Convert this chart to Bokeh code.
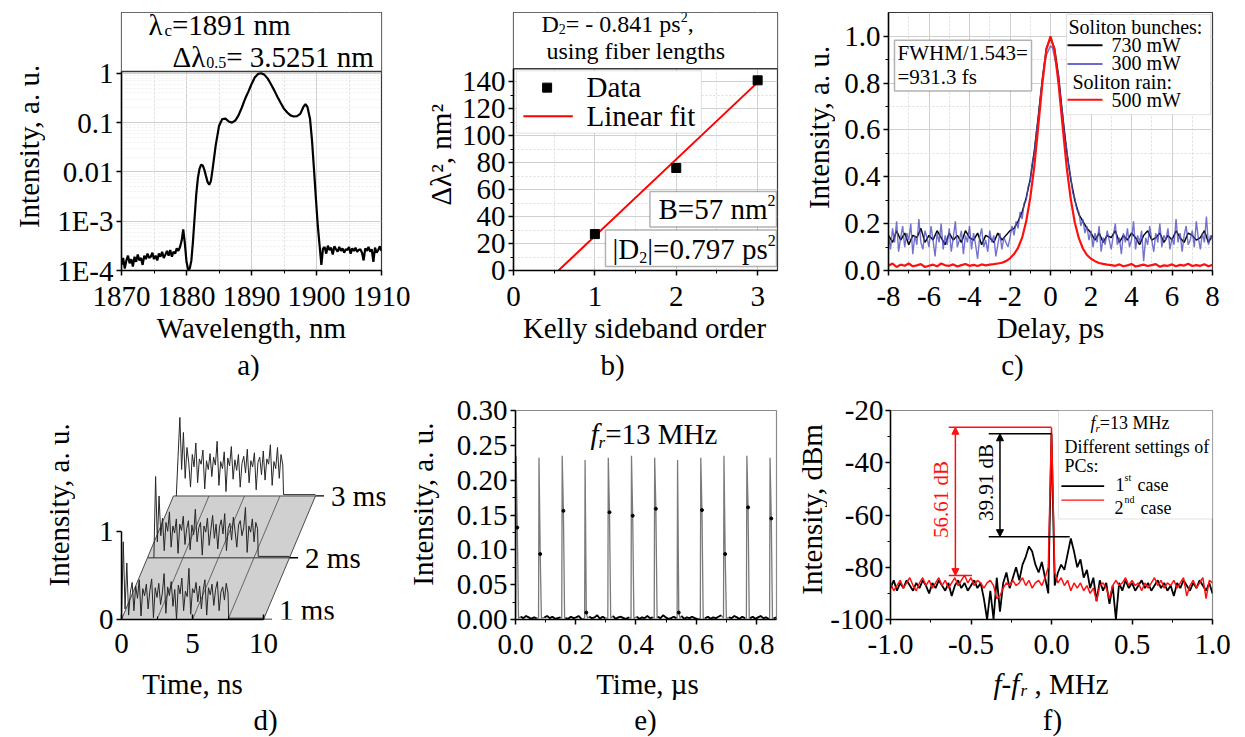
import numpy as np
from bokeh.plotting import figure
from bokeh.models import (Range1d, FixedTicker, Label, BoxAnnotation, Arrow, NormalHead,
                          NumeralTickFormatter, Span)
from bokeh.layouts import row, column
from bokeh.embed import file_html
from bokeh.resources import INLINE
from bokeh.core.properties import value

SERIF = "Liberation Serif"
AXIS_FONT = "'Liberation Serif'"

# ====================== DATA ======================
# (a) optical spectrum, log intensity
a_left_floor = [1.3, 1.8, 1.1, 1.6, 2.0, 1.4, 1.7, 1.2, 1.9, 1.5,
                2.1, 1.6, 1.8, 1.3, 2.0, 1.7, 2.2, 1.8, 1.9, 2.3,
                1.7, 2.0, 1.6, 2.2, 1.9, 2.4, 1.8, 2.1, 2.5, 2.0,
                2.6, 1.9, 2.4, 2.2, 2.8, 2.5, 3.0]          # x1e-4, 1870..1879 nm
a_mid_wl = [1879.25, 1879.5, 1879.75, 1880.0, 1880.25, 1880.5, 1880.75, 1881.0, 1881.25, 1881.5,
            1881.75, 1882.0, 1882.25, 1882.5, 1882.75, 1883.0, 1883.25, 1883.5, 1883.75, 1884.0,
            1884.5, 1885.0, 1885.5, 1886.0, 1886.5, 1887.0, 1887.5, 1888.0, 1888.5, 1889.0,
            1889.5, 1890.0, 1890.5, 1891.0, 1891.5, 1892.0, 1892.5, 1893.0, 1893.5, 1894.0,
            1894.5, 1895.0, 1895.5, 1896.0, 1896.5, 1897.0, 1897.5, 1898.0, 1898.3, 1898.6,
            1899.0, 1899.3, 1899.6, 1899.9, 1900.2, 1900.5, 1900.75, 1901.0]
a_mid_int = [4.0e-4, 6.8e-4, 3.5e-4, 1.5e-4, 1.05e-4, 1.1e-4, 1.6e-4, 4e-4, 1.2e-3, 3.5e-3,
             7.5e-3, 0.0115, 0.014, 0.0135, 0.011, 0.0082, 0.0062, 0.0055, 0.0065, 0.011,
             0.035, 0.085, 0.118, 0.12, 0.105, 0.1, 0.11, 0.14, 0.2, 0.3,
             0.42, 0.6, 0.82, 0.97, 1.0, 0.93, 0.78, 0.6, 0.45, 0.33,
             0.25, 0.19, 0.16, 0.14, 0.133, 0.135, 0.15, 0.21, 0.235, 0.21,
             0.12, 0.045, 0.012, 3e-3, 8e-4, 3e-4, 1.3e-4, 2.8e-4]
a_right_floor = [3.0, 2.2, 3.2, 2.6, 2.9, 2.1, 3.1, 2.7, 2.4, 3.0,
                 2.5, 2.8, 2.3, 2.7, 2.6, 3.0, 2.2, 2.8, 2.5, 2.9,
                 2.4, 2.6, 2.7, 2.3, 1.6, 2.8, 2.5, 3.0, 2.4, 2.7,
                 1.5, 2.9, 2.3, 2.6, 3.1, 2.5]               # x1e-4, 1901.25..1910 nm

# (b) Kelly sidebands
b_order = [1, 2, 3]
b_dl2 = [27, 76, 141]
b_fit_slope = 57.0
b_fit_intercept = -31.5

# (c) autocorrelation traces, delay -8..8 ps
c_black = [0.15, 0.12, 0.17, 0.13, 0.16, 0.11, 0.15, 0.14, 0.18, 0.12,
           0.15, 0.13, 0.17, 0.14, 0.11, 0.16, 0.13, 0.15, 0.12, 0.17,
           0.14, 0.13, 0.16, 0.11, 0.15, 0.14, 0.12, 0.16, 0.13, 0.15,
           0.17, 0.18, 0.21, 0.25, 0.31, 0.39, 0.51, 0.66, 0.82, 0.95, 0.99,
           0.95, 0.83, 0.66, 0.51, 0.39, 0.30, 0.24, 0.21, 0.18, 0.16,
           0.13, 0.16, 0.12, 0.15, 0.14, 0.17, 0.12, 0.15, 0.13, 0.16,
           0.14, 0.11, 0.15, 0.17, 0.13, 0.14, 0.16, 0.12, 0.15, 0.13,
           0.17, 0.14, 0.12, 0.16, 0.15, 0.13, 0.14, 0.17, 0.12, 0.15]
c_blue = [0.15, 0.09, 0.18, 0.12, 0.21, 0.08, 0.14, 0.19, 0.10, 0.16,
          0.13, 0.20, 0.07, 0.15, 0.11, 0.22, 0.12, 0.09, 0.17, 0.14,
          0.10, 0.19, 0.13, 0.06, 0.16, 0.12, 0.20, 0.09, 0.15, 0.11,
          0.18, 0.08, 0.14, 0.21, 0.10, 0.13, 0.17, 0.07, 0.15, 0.12,
          0.19, 0.09, 0.16, 0.11, 0.05, 0.14, 0.18, 0.10, 0.13, 0.08,
          0.17, 0.12, 0.15, 0.06, 0.11, 0.16, 0.09, 0.14, 0.12, 0.10,
          0.14, 0.19, 0.15, 0.21, 0.18, 0.25, 0.22, 0.29, 0.30, 0.36,
          0.38, 0.46, 0.50, 0.59, 0.65, 0.74, 0.81, 0.88, 0.92, 0.94,
          0.96,
          0.95, 0.91, 0.87, 0.83, 0.73, 0.67, 0.57, 0.52, 0.44, 0.40,
          0.33, 0.31, 0.26, 0.25, 0.19, 0.22, 0.16, 0.19, 0.13, 0.17,
          0.10, 0.16, 0.12, 0.19, 0.08, 0.14, 0.11, 0.17, 0.13, 0.09,
          0.15, 0.20, 0.11, 0.14, 0.07, 0.16, 0.12, 0.18, 0.10, 0.13,
          0.21, 0.09, 0.15, 0.12, 0.17, 0.04, 0.14, 0.11, 0.19, 0.13,
          0.08, 0.16, 0.12, 0.20, 0.10, 0.15, 0.13, 0.18, 0.09, 0.14,
          0.11, 0.22, 0.12, 0.16, 0.08, 0.15, 0.19, 0.11, 0.13, 0.17,
          0.10, 0.21, 0.14, 0.09, 0.16, 0.12, 0.23, 0.11, 0.15, 0.13]
c_red = [0.02, 0.03, 0.015, 0.025, 0.02, 0.03, 0.018, 0.022, 0.027, 0.015,
         0.02, 0.025, 0.018, 0.03, 0.022, 0.02, 0.026, 0.017, 0.023, 0.028,
         0.02, 0.024, 0.019, 0.026, 0.022,
         0.025, 0.027, 0.03, 0.033, 0.04, 0.052, 0.07, 0.097, 0.14, 0.21,
         0.31, 0.445, 0.62, 0.80, 0.945, 1.0, 0.94, 0.795, 0.615, 0.44,
         0.305, 0.205, 0.138, 0.094, 0.066, 0.05, 0.04, 0.032, 0.028, 0.025, 0.023,
         0.02, 0.026, 0.018, 0.022, 0.028, 0.017, 0.021, 0.025, 0.019, 0.023,
         0.027, 0.016, 0.022, 0.02, 0.026, 0.018, 0.024, 0.021, 0.029, 0.019,
         0.023, 0.02, 0.027, 0.018, 0.024]

# (d) oscilloscope traces at 1, 2, 3 ms (intensity, a.u.)
d_t1 = [0.0, 0.88, 0.12, 0.64, 0.05, 0.31, 0.42, 0.10, 0.38, 0.24,
        0.45, 0.04, 0.35, 0.27, 0.40, 0.12, 0.33, 0.46, 0.02, 0.36,
        0.25, 0.41, 0.17, 0.30, 0.52, 0.07, 0.37, 0.27, 0.43, 0.15,
        0.34, 0.00, 0.39, 0.29, 0.47, 0.10, 0.32, 0.26, 0.58, 0.06,
        0.35, 0.30, 0.42, 0.20, 0.38, 0.12, 0.33, 0.45, 0.05, 0.36,
        0.28, 0.40, 0.16, 0.34, 0.43, 0.10, 0.31, 0.37, 0.22, 0.41, 0.30]
d_t2 = [0.0, 0.92, 0.18, 0.70, 0.25, 0.45, 0.08, 0.40, 0.30, 0.52,
        0.12, 0.36, 0.28, 0.44, 0.05, 0.38, 0.31, 0.47, 0.15, 0.33,
        0.42, 0.09, 0.37, 0.26, 0.55, 0.18, 0.34, 0.40, 0.03, 0.36,
        0.29, 0.45, 0.14, 0.32, 0.48, 0.22, 0.38, 0.10, 0.35, 0.43,
        0.27, 0.50, 0.08, 0.33, 0.39, 0.20, 0.46, 0.30, 0.12, 0.37,
        0.42, 0.25, 0.34, 0.57, 0.06, 0.36, 0.29, 0.44, 0.18, 0.40, 0.33]
d_t3 = [0.0, 0.45, 0.89, 0.30, 0.72, 0.20, 0.55, 0.38, 0.10, 0.47,
        0.33, 0.60, 0.15, 0.42, 0.36, 0.52, 0.08, 0.40, 0.30, 0.48,
        0.22, 0.44, 0.35, 0.62, 0.12, 0.39, 0.31, 0.50, 0.05, 0.43,
        0.34, 0.56, 0.19, 0.41, 0.29, 0.47, 0.10, 0.37, 0.45, 0.26,
        0.53, 0.15, 0.40, 0.33, 0.49, 0.07, 0.38, 0.44, 0.24, 0.51,
        0.18, 0.42, 0.36, 0.58, 0.12, 0.39, 0.31, 0.55, 0.20, 0.47, 0.35]
d_spans = [(0.0, 7.5), (0.45, 7.75), (0.2, 7.7)]      # ns, start/end of each record
d_names = ["1 ms", "2 ms", "3 ms"]

# (e) pulse train
e_pulse_t = [0.002, 0.078, 0.155, 0.231, 0.308, 0.385, 0.462, 0.538, 0.615, 0.692, 0.768, 0.845]
e_pulse_peak = [0.235, 0.232, 0.235, 0.229, 0.232, 0.235, 0.232, 0.229, 0.232, 0.235, 0.235, 0.232]
e_pulse_mid = [0.132, 0.094, 0.156, 0.010, 0.154, 0.149, 0.159, 0.010, 0.157, 0.094, 0.161, 0.145]
e_floor = [0.002, 0.001, 0.004, 0.002, 0.005, 0.003, 0.001, 0.003, 0.002, 0.004,
           0.001, 0.003, 0.005, 0.002, 0.004, 0.001, 0.002, 0.003, 0.006, 0.002,
           0.001, 0.004, 0.002, 0.003, 0.005, 0.001, 0.003, 0.002, 0.004, 0.002,
           0.003, 0.006, 0.001, 0.004, 0.002, 0.003, 0.002, 0.005, 0.001, 0.003,
           0.004, 0.002, 0.001, 0.003, 0.005, 0.002, 0.004, 0.001, 0.003, 0.002,
           0.005, 0.002, 0.003, 0.001, 0.004, 0.002, 0.006, 0.003, 0.001, 0.002,
           0.004, 0.002, 0.003, 0.005, 0.001, 0.003, 0.002, 0.004, 0.002, 0.001,
           0.003, 0.005, 0.002, 0.004, 0.001, 0.003, 0.002, 0.004, 0.006, 0.002,
           0.001, 0.003, 0.002, 0.005, 0.003, 0.001, 0.004, 0.002, 0.003, 0.002,
           0.004, 0.001, 0.003, 0.005, 0.002, 0.003, 0.001, 0.004, 0.002, 0.003]

# (f) RF spectra, f - fr from -1 to 1 MHz (dBm)
f_case1 = [-88, -85, -89, -86, -88, -85, -87, -89, -86, -88,
           -85, -87, -90, -86, -88, -85, -87, -89, -86, -91,
           -87, -85, -88, -86, -89, -87, -85, -88, -86, -92,
           -100, -89, -100, -84, -97, -86, -82, -88, -84, -80,
           -85, -79, -76, -72, -74, -79, -82, -78, -84, -90,
           -29,
           -87, -82, -79, -81, -75, -69, -74, -80, -77, -84,
           -81, -88, -84, -93, -85, -89, -86, -94, -87, -100,
           -86, -89, -85, -88, -86, -89, -87, -85, -88, -86,
           -89, -87, -85, -88, -86, -89, -87, -91, -86, -88,
           -85, -87, -89, -86, -88, -85, -87, -89, -86, -90]
f_case2 = [-86, -89, -87, -85, -88, -86, -84, -87, -89, -86,
           -84, -87, -85, -88, -86, -84, -87, -85, -88, -86,
           -84, -87, -85, -83, -86, -84, -87, -85, -86, -88,
           -86, -85, -87, -92, -91, -88, -86, -87, -85, -87,
           -86, -84, -87, -85, -88, -86, -85, -87, -84, -80,
           -26.5,
           -82, -86, -84, -87, -85, -89, -86, -88, -86, -89,
           -87, -90, -88, -93, -87, -86, -88, -92, -87, -85,
           -87, -86, -84, -87, -85, -87, -86, -89, -86, -88,
           -86, -84, -87, -85, -88, -86, -87, -85, -88, -86,
           -84, -91, -87, -85, -88, -86, -84, -92, -85, -86]
f_red_top, f_red_bot = -26.4, -83.2
f_blk_top, f_blk_bot = -28.9, -68.3

# ====================== HELPERS ======================
TW = {' ': 250, ',': 250, '-': 333, '.': 250, '/': 278, ':': 278, '=': 564, '|': 200,
      'B': 667, 'D': 722, 'F': 556, 'H': 722, 'M': 889, 'W': 944, 'z': 444,
      'a': 444, 'b': 500, 'c': 444, 'd': 500, 'e': 444, 'f': 333, 'g': 500, 'h': 500,
      'i': 278, 'l': 278, 'm': 778, 'n': 500, 'o': 500, 'p': 500, 'r': 333, 's': 389,
      't': 278, 'u': 500, 'y': 500, 'Δ': 612, 'λ': 549}
TWI = {'f': 278, 'r': 389, '-': 333}
HALF_PI = np.pi / 2


def tw(s, size, italic=False):
    tot = 0
    for ch in s:
        tot += TWI[ch] if (italic and ch in TWI) else TW.get(ch, 500)
    return tot / 1000.0 * size


def bare(p):
    p.outline_line_color = None
    p.background_fill_color = "white"
    p.border_fill_color = "white"
    p.grid.visible = False


class Strip:
    """A text-only band of the page; coordinates are page pixels."""
    def __init__(self, x0, y0, x1, y1):
        self.y1 = y1
        self.p = figure(width=x1 - x0, height=y1 - y0, x_range=Range1d(x0, x1),
                        y_range=Range1d(0, y1 - y0), min_border=0,
                        x_axis_location=None, y_axis_location=None,
                        output_backend="svg", toolbar_location=None)
        bare(self.p)

    def put(self, ax, ay, text, size=29, align="center", angle=0.0, italic=False, color="black"):
        self.p.text(x=[ax], y=[self.y1 - ay], text=[text], angle=angle,
                    text_font=value(SERIF), text_font_size=f"{size}px",
                    text_align=align, text_baseline="middle", text_color=color,
                    text_font_style="italic" if italic else "normal")


class Panel:
    def __init__(self, canvas, frame, xr, yr, y_log=False):
        cx0, cy0, cx1, cy1 = canvas
        fx0, fy0, fx1, fy1 = frame
        self.fx0, self.fy0, self.fx1, self.fy1 = frame
        self.xr, self.yr, self.y_log = xr, yr, y_log
        self.p = figure(width=cx1 - cx0, height=cy1 - cy0,
                        x_range=Range1d(*xr), y_range=Range1d(*yr),
                        y_axis_type="log" if y_log else "linear",
                        min_border_left=fx0 - cx0, min_border_right=cx1 - fx1,
                        min_border_top=fy0 - cy0, min_border_bottom=cy1 - fy1,
                        output_backend="svg", toolbar_location=None)
        self.p.background_fill_color = "white"
        self.p.border_fill_color = "white"
        self.p.outline_line_color = "#3a3a3a"
        self.p.outline_line_width = 1.2

    def dx(self, ax):
        return self.xr[0] + (ax - self.fx0) / (self.fx1 - self.fx0) * (self.xr[1] - self.xr[0])

    def dy(self, ay):
        t = (self.fy1 - ay) / (self.fy1 - self.fy0)
        if self.y_log:
            l0, l1 = np.log10(self.yr[0]), np.log10(self.yr[1])
            return 10 ** (l0 + t * (l1 - l0))
        return self.yr[0] + t * (self.yr[1] - self.yr[0])

    def label(self, ax, ay, text, size=29, align="left", angle=0.0, color="black", italic=False):
        self.p.add_layout(Label(x=ax - self.fx0, y=self.fy1 - ay, x_units="screen", y_units="screen",
                                text=text, text_font=SERIF, text_font_size=f"{size}px",
                                text_align=align, text_baseline="middle", angle=angle,
                                text_color=color,
                                text_font_style="italic" if italic else "normal"))

    def seq(self, ax, parts, color="black"):
        x = ax
        for part in parts:
            text, size, ay = part[0], part[1], part[2]
            italic = len(part) > 3 and part[3]
            self.label(x, ay, text, size=size, italic=italic, color=color)
            x += tw(text, size, italic)


def style_axes(P, xt, xm, yt, ym, xfmt=None, yfmt=None, xb=None, yb=None, xstand=11):
    p = P.p
    xa, ya = p.xaxis[0], p.yaxis[0]
    xa.ticker = FixedTicker(ticks=xt, minor_ticks=xm)
    ya.ticker = FixedTicker(ticks=yt, minor_ticks=ym)
    p.xgrid[0].ticker = xa.ticker
    p.ygrid[0].ticker = ya.ticker
    for ax in (xa, ya):
        ax.axis_line_color = "black"
        ax.axis_line_width = 1.5
        ax.major_tick_line_color = "black"
        ax.major_tick_line_width = 1.5
        ax.major_tick_out = 5
        ax.major_tick_in = 0
        ax.minor_tick_line_color = "black"
        ax.minor_tick_line_width = 1
        ax.minor_tick_out = 3
        ax.minor_tick_in = 0
        ax.major_label_text_font = AXIS_FONT
        ax.major_label_text_font_size = "29px"
        ax.major_label_text_color = "black"
    xa.major_label_standoff = xstand
    ya.major_label_standoff = 3
    if xfmt:
        xa.formatter = NumeralTickFormatter(format=xfmt)
    if yfmt:
        ya.formatter = NumeralTickFormatter(format=yfmt)
    if xb:
        xa.bounds = xb
    if yb:
        ya.bounds = yb


def grid_on(P):
    for g in (P.p.xgrid[0], P.p.ygrid[0]):
        g.grid_line_color = "#d0d0d0"
        g.grid_line_width = 1
        g.minor_grid_line_color = "#dcdcdc"
        g.minor_grid_line_dash = "2 2"
        g.minor_grid_line_width = 1


def grid_off(P):
    P.p.xgrid[0].visible = False
    P.p.ygrid[0].visible = False


ROW1 = (0, 312)
ROW2 = (385, 664)

# ====================== (a) ======================
A = Panel((45, 0, 418, 312), (121, 12, 381, 270), (1870, 1910), (1e-4, 17.1), y_log=True)
pa = A.p
a_sep = A.dy(71)
a_minor = [m * 10.0 ** e for e in range(-4, 0) for m in range(2, 10)]
style_axes(A, [1870, 1880, 1890, 1900, 1910], [1875, 1885, 1895, 1905],
           [1e-4, 1e-3, 1e-2, 1e-1, 1.0], a_minor, yb=(1e-4, a_sep))
pa.yaxis[0].minor_tick_out = 0
pa.yaxis[0].major_label_overrides = {1e-4: "1E-4", 1e-3: "1E-3", 1e-2: "0.01", 1e-1: "0.1", 1.0: "1"}
grid_on(A)
pa.ygrid[0].minor_grid_line_color = "#eeeeee"
a_wl = list(np.linspace(1870, 1879, len(a_left_floor))) + a_mid_wl + \
    list(np.linspace(1901.25, 1910, len(a_right_floor)))
a_int = [v * 1e-4 for v in a_left_floor] + a_mid_int + [v * 1e-4 for v in a_right_floor]
pa.line(a_wl, a_int, line_color="black", line_width=2.2)
pa.add_layout(BoxAnnotation(bottom=a_sep, fill_color="white", fill_alpha=1.0, line_alpha=0.0))
pa.add_layout(Span(location=a_sep, dimension="width", line_color="#3a3a3a", line_width=1.5))
A.seq(148, [("λ", 29, 24), ("c", 17, 30), ("=1891 nm", 29, 24)])
A.seq(172, [("Δλ", 29, 56), ("0.5", 16, 62), ("= 3.5251 nm", 29, 56)])

# ====================== (b) ======================
B = Panel((458, 0, 800, 312), (510, 10, 777, 271), (0, 3.244), (0, 191.3))
pb = B.p
b_sep = B.dy(67)
style_axes(B, [0, 1, 2, 3], [0.5, 1.5, 2.5], list(range(0, 141, 20)), list(range(10, 140, 20)),
           yb=(0, b_sep))
grid_on(B)
fit_x = [-b_fit_intercept / b_fit_slope, 3.0]
fit_y = [b_fit_slope * x + b_fit_intercept for x in fit_x]
pb.line(fit_x, fit_y, line_color="red", line_width=2)
pb.scatter(b_order, b_dl2, marker="square", size=9, color="black")
pb.add_layout(BoxAnnotation(bottom=b_sep, fill_color="white", fill_alpha=1.0, line_alpha=0.0))
pb.add_layout(Span(location=b_sep, dimension="width", line_color="#3a3a3a", line_width=1.5))
pb.add_layout(BoxAnnotation(left=B.dx(513), right=B.dx(700), top=B.dy(69), bottom=B.dy(132),
                            fill_color="white", fill_alpha=1.0, line_color="#9a9a9a",
                            line_width=1, level="underlay"))
pb.scatter([B.dx(544)], [B.dy(86)], marker="square", size=9, color="black")
pb.segment(x0=[B.dx(520)], x1=[B.dx(570)], y0=[B.dy(115)], y1=[B.dy(115)],
           line_color="red", line_width=2)
B.label(583, 87, "Data")
B.label(583, 116, "Linear fit")
pb.add_layout(BoxAnnotation(left=B.dx(648), right=B.dx(776), top=B.dy(191), bottom=B.dy(227),
                            fill_color="white", fill_alpha=1.0, line_color="black", line_width=1.5))
pb.add_layout(BoxAnnotation(left=B.dx(603), right=B.dx(776), top=B.dy(230), bottom=B.dy(267),
                            fill_color="white", fill_alpha=1.0, line_color="black", line_width=1.5))
B.seq(655, [("B=57 nm", 29, 209), ("2", 16, 201)])
B.seq(609, [("|D", 29, 249), ("2", 16, 258), ("|=0.797 ps", 29, 249), ("2", 16, 241)])
B.seq(538, [("D", 24, 24), ("2", 14, 29), ("= - 0.841 ps", 24, 24), ("2", 14, 17), (",", 24, 24)])
B.label(543, 51, "using fiber lengths", size=24)

# ====================== (c) ======================
C = Panel((835, 0, 1245, 312), (888, 10, 1212, 270), (-8, 8), (0, 1.1017))
pc = C.p
style_axes(C, list(range(-8, 9, 2)), list(range(-7, 8, 2)),
           [0, 0.2, 0.4, 0.6, 0.8, 1.0], [0.1, 0.3, 0.5, 0.7, 0.9], xfmt="0", yfmt="0.0")
grid_on(C)
pc.line(np.linspace(-8, 8, len(c_black)), c_black, line_color="black", line_width=1.5)
pc.line(np.linspace(-8, 8, len(c_blue)), c_blue, line_color="#5050c0", line_alpha=0.8, line_width=1.4)
pc.line(np.linspace(-8, 8, len(c_red)), c_red, line_color="#ff1010", line_width=2.2)
pc.add_layout(BoxAnnotation(left=C.dx(1066), right=C.dx(1210), top=C.dy(12), bottom=C.dy(113),
                            fill_color="white", fill_alpha=1.0, line_color="#9a9a9a",
                            line_width=1, level="underlay"))
for yy, col in ((43, "black"), (62, "#6a6ad0"), (98, "#ff1010")):
    pc.segment(x0=[C.dx(1067)], x1=[C.dx(1102)], y0=[C.dy(yy)], y1=[C.dy(yy)],
               line_color=col, line_width=2)
C.label(1068, 26, "Soliton bunches:", size=20)
C.label(1111, 44, "730 mW", size=20)
C.label(1111, 62, "300 mW", size=20)
C.label(1072, 81, "Soliton rain:", size=20)
C.label(1111, 99, "500 mW", size=20)
pc.add_layout(BoxAnnotation(left=C.dx(894), right=C.dx(1031), top=C.dy(38), bottom=C.dy(89),
                            fill_color="white", fill_alpha=1.0, line_color="black", line_width=1.5))
C.label(897, 52, "FWHM/1.543=", size=21)
C.label(897, 76, "=931.3 fs", size=21)

# ====================== (d) ======================
D = Panel((75, 385, 400, 664), (121, 398, 385, 619), (0, 264 / 14.2), (0, 221 / 93.3))
pd_ = D.p
pd_.outline_line_color = None
grid_off(D)
style_axes(D, [0, 5, 10], [2.5, 7.5], [0, 1], [], xb=(0, 10), yb=(0, 1), xstand=14)
xa = pd_.xaxis[0]
xa.major_tick_out, xa.major_tick_in = 0, 5
xa.minor_tick_out, xa.minor_tick_in = 0, 3
DX, DY = 1.83, 0.70
for k in range(2):
    x0, y0 = k * DX, k * DY
    pd_.patch([x0, x0 + 10, x0 + 10 + DX, x0 + DX], [y0, y0, y0 + DY, y0 + DY],
              fill_color="#d0d0d0", line_color="#4a4a4a", line_width=1)
    for xl in (2.5, 5.0, 7.5):
        pd_.segment(x0=[xl + x0], y0=[y0], x1=[xl + x0 + DX], y1=[y0 + DY],
                    line_color="#4a4a4a", line_width=0.8)
for k, (vals, (t0, t1)) in enumerate(zip([d_t1, d_t2, d_t3], d_spans)):
    xs = list(np.linspace(t0, t1, len(vals))) + [t1 + 0.05, 10.0]
    ys = list(vals) + [0.015, 0.015]
    pd_.line([x + k * DX for x in xs], [y + k * DY for y in ys], line_color="#262626", line_width=1)
    pd_.segment(x0=[10 + k * DX], x1=[10.6 + k * DX], y0=[k * DY], y1=[k * DY],
                line_color="black", line_width=1.3)
pd_.text(x=[10 + k * DX + 1.1 for k in range(3)], y=[k * DY for k in range(3)], text=d_names,
         y_offset=[-10, 0, 0],
         text_font=value(SERIF), text_font_size="29px", text_baseline="middle", text_color="black")

# ====================== (e) ======================
E = Panel((440, 385, 795, 664), (515, 410, 776, 619), (0, 0.8664), (0, 0.30))
pe = E.p
pe.outline_line_color = "#8a8a8a"
grid_off(E)
style_axes(E, [0, 0.2, 0.4, 0.6, 0.8], [0.1, 0.3, 0.5, 0.7],
           [0, 0.05, 0.10, 0.15, 0.20, 0.25, 0.30],
           [0.025, 0.075, 0.125, 0.175, 0.225, 0.275], xfmt="0.0", yfmt="0.00", xstand=10)
pts = []
for t, pk, md in zip(e_pulse_t, e_pulse_peak, e_pulse_mid):
    pts += [(t - 0.0015, 0.002, 1), (t, pk, 1), (t + 0.004, md, 1), (t + 0.008, 0.002, 1)]
for fx, fy in zip(np.linspace(0, 0.8664, len(e_floor)), e_floor):
    if not any(t - 0.004 < fx < t + 0.010 for t in e_pulse_t):
        pts.append((fx, fy, 0))
pts.sort()
pe.line([q[0] for q in pts], [q[1] for q in pts], line_color="#7a7a7a", line_width=1.3)
fl_x, fl_y = [], []
for x_, y_, isp in pts:
    if isp:
        if fl_x and not np.isnan(fl_x[-1]):
            fl_x.append(np.nan)
            fl_y.append(np.nan)
    else:
        fl_x.append(x_)
        fl_y.append(y_)
pe.line(fl_x, fl_y, line_color="black", line_width=1.8)
pe.scatter([t + 0.004 for t in e_pulse_t], e_pulse_mid, size=3, color="black")
E.seq(590, [("f", 29, 433, True), ("r", 17, 442, True), ("=13 MHz", 29, 433)])

# ====================== (f) ======================
F = Panel((827, 385, 1245, 664), (888, 410, 1212, 620), (-1, 1), (-100, -20))
pf = F.p
pf.outline_line_color = "#8a8a8a"
grid_off(F)
style_axes(F, [-1.0, -0.5, 0.0, 0.5, 1.0], [-0.75, -0.25, 0.25, 0.75],
           [-100, -80, -60, -40, -20], [-90, -70, -50, -30], xfmt="0.0", yfmt="0", xstand=10)
pf.yaxis[0].major_label_standoff = 2
pf.line(np.linspace(-1, 1, len(f_case1)), f_case1, line_color="black", line_width=1.8)
pf.line(np.linspace(-1, 1, len(f_case2)), f_case2, line_color="#ff1010", line_width=1.5)
pf.segment(x0=[-0.638, -0.638], x1=[0.0, -0.494], y0=[f_red_top, f_red_bot], y1=[f_red_top, f_red_bot],
           line_color="#ff1010", line_width=1.5)
pf.segment(x0=[-0.39, -0.39], x1=[0.0, 0.113], y0=[f_blk_top, f_blk_bot], y1=[f_blk_top, f_blk_bot],
           line_color="black", line_width=1.5)
pf.add_layout(Arrow(start=NormalHead(size=7, fill_color="#ff1010", line_color="#ff1010"),
                    end=NormalHead(size=7, fill_color="#ff1010", line_color="#ff1010"),
                    x_start=-0.597, y_start=f_red_bot, x_end=-0.597, y_end=f_red_top,
                    line_color="#ff1010", line_width=1.5))
pf.add_layout(Arrow(start=NormalHead(size=7, fill_color="black", line_color="black"),
                    end=NormalHead(size=7, fill_color="black", line_color="black"),
                    x_start=-0.32, y_start=f_blk_bot, x_end=-0.32, y_end=f_blk_top,
                    line_color="black", line_width=1.5))
F.label(938, 500, "56.61 dB", size=21, align="center", angle=HALF_PI, color="#ff1010")
F.label(983, 483, "39.91 dB", size=21, align="center", angle=HALF_PI)
pf.add_layout(BoxAnnotation(left=F.dx(1057), right=F.dx(1212), top=F.dy(410), bottom=F.dy(519),
                            fill_color="white", fill_alpha=1.0, line_color="#9a9a9a",
                            line_width=1, level="underlay"))
pf.segment(x0=[F.dx(1060)], x1=[F.dx(1103)], y0=[F.dy(486)], y1=[F.dy(486)],
           line_color="black", line_width=1.8)
pf.segment(x0=[F.dx(1060)], x1=[F.dx(1103)], y0=[F.dy(500)], y1=[F.dy(500)],
           line_color="#ff1010", line_width=1.2)
F.seq(1088, [("f", 18, 423, True), ("r", 11, 428, True), ("=13 MHz", 18, 423)])
F.label(1062, 447, "Different settings of", size=18)
F.label(1062, 466, "PCs:", size=18)
F.label(1113, 485, "1", size=18)
F.label(1122, 478, "st", size=10)
F.label(1135, 485, "case", size=18)
F.label(1112, 508, "2", size=18)
F.label(1122, 500, "nd", size=10)
F.label(1138, 508, "case", size=18)

# ====================== axis titles & panel letters ======================
YA = Strip(0, ROW1[0], 45, ROW1[1]);        YA.put(28, 162, "Intensity, a. u.", angle=HALF_PI)
YB = Strip(418, ROW1[0], 458, ROW1[1]);     YB.put(440, 172, "Δλ², nm²", angle=HALF_PI)
YC = Strip(800, ROW1[0], 835, ROW1[1]);     YC.put(818, 139, "Intensity, a. u.", angle=HALF_PI)
YD = Strip(0, ROW2[0], 75, ROW2[1]);        YD.put(58, 511, "Intensity, a. u.", angle=HALF_PI)
YE = Strip(400, ROW2[0], 440, ROW2[1]);     YE.put(422, 510, "Intensity, a. u.", angle=HALF_PI)
YF = Strip(795, ROW2[0], 827, ROW2[1]);     YF.put(811, 517, "Intensity, dBm", angle=HALF_PI)

S1 = Strip(0, ROW1[1], 1245, ROW2[0])
S1.put(251, 327, "Wavelength, nm")
S1.put(644, 327, "Kelly sideband order")
S1.put(1050, 327, "Delay, ps")
S1.put(248, 364, "a)")
S1.put(612, 364, "b)")
S1.put(1012, 364, "c)")

S2 = Strip(0, ROW2[1], 1245, 737)
S2.put(993, 683, "f-f", align="left", italic=True)
S2.put(1020, 690, "r", size=17, align="left", italic=True)
S2.put(1034, 683, ", MHz", align="left")
S2.put(192, 683, "Time, ns")
S2.put(647, 683, "Time, \u00b5s")
S2.put(265, 719, "d)")
S2.put(645, 719, "e)")
S2.put(1052, 719, "f)")

layout = column(row(YA.p, A.p, YB.p, B.p, YC.p, C.p),
                S1.p,
                row(YD.p, D.p, YE.p, E.p, YF.p, F.p),
                S2.p)
with open("out.html", "w") as fh:
    fh.write(file_html(layout, INLINE))
